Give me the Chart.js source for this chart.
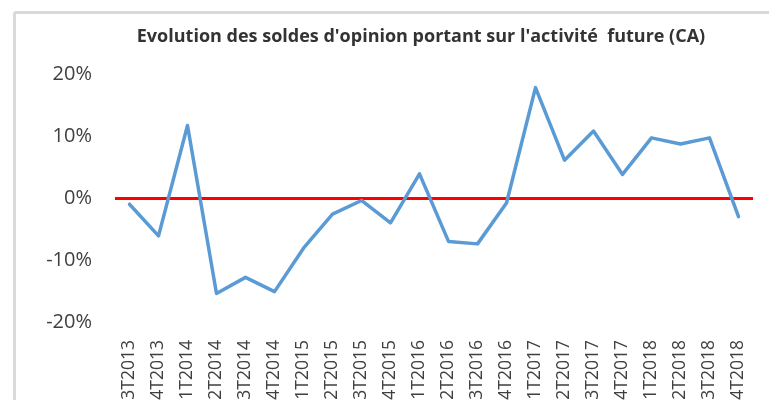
<!DOCTYPE html>
<html>
<head>
<meta charset="utf-8">
<script src="https://cdn.jsdelivr.net/npm/chart.js@4.4.0/dist/chart.umd.min.js"></script>
<style>
  html, body { margin: 0; padding: 0; background: #fff; overflow: hidden; }
  #wrap { position: relative; width: 769px; height: 400px; }
  #frame {
    position: absolute; left: 13px; top: 11px; width: 800px; height: 450px;
    border: 3px solid #d9d9d9; border-radius: 3px; box-sizing: border-box;
  }
  #chart { position: absolute; left: 0; top: 0; }
</style>
</head>
<body>
<div id="wrap">
  <div id="frame"></div>
  <canvas id="chart" width="769" height="400"></canvas>
</div>
<script>
// trimestres
const quarters = ['3T2013', '4T2013', '1T2014', '2T2014', '3T2014', '4T2014',
  '1T2015', '2T2015', '3T2015', '4T2015', '1T2016', '2T2016', '3T2016', '4T2016',
  '1T2017', '2T2017', '3T2017', '4T2017', '1T2018', '2T2018', '3T2018', '4T2018'];
// soldes d'opinion (%)
const soldes = [-1.0, -6.1, 11.7, -15.4, -12.8, -15.1,
  -8.1, -2.6, -0.4, -4.0, 3.9, -7.0, -7.4, -0.8,
  17.8, 6.1, 10.8, 3.8, 9.7, 8.7, 9.7, -3.0];
const yTicks = [-20, -10, 0, 10, 20];

const titleText = "Evolution des soldes d'opinion portant sur l'activité  future (CA)";
const fontFamily = "'Open Sans', 'Noto Sans', sans-serif";

// the original chart is wider than the window, so its title sits right of centre
const offsetTitle = {
  id: 'offsetTitle',
  afterDraw(chart) {
    const ctx = chart.ctx;
    ctx.save();
    ctx.font = 'bold 18px ' + fontFamily;
    ctx.fillStyle = '#333333';
    ctx.textAlign = 'center';
    ctx.textBaseline = 'middle';
    ctx.fillText(titleText, 421, 37);
    ctx.restore();
  }
};

const config = {
  type: 'line',
  data: {
    labels: quarters,
    datasets: [{
      label: 'Solde',
      data: soldes,
      borderColor: '#5b9bd5',
      backgroundColor: '#5b9bd5',
      borderWidth: 3.5,
      pointRadius: 0,
      tension: 0,
      borderJoinStyle: 'round',
      borderCapStyle: 'round'
    }]
  },
  options: {
    responsive: false,
    animation: false,
    layout: {
      padding: { left: 0, right: 16, top: 74, bottom: 0 }
    },
    plugins: {
      legend: { display: false },
      tooltip: { enabled: false },
      title: { display: false }
    },
    scales: {
      x: {
        offset: true,
        grid: { display: false },
        border: { display: false },
        ticks: {
          color: '#404040',
          font: { family: fontFamily, size: 17.5 },
          minRotation: 90,
          maxRotation: 90,
          padding: 10,
          autoSkip: false
        },
        afterFit: function(scale) {
          scale.height = 78;
          // no extra room for the rotated end labels
          scale.paddingLeft = 0;
          scale.paddingRight = 0;
        }
      },
      y: {
        min: -20,
        max: 20,
        afterBuildTicks: function(scale) {
          scale.ticks = yTicks.map(function(v) { return { value: v }; });
        },
        border: { display: false },
        grid: {
          drawTicks: false,
          color: function(ctx) { return ctx.tick && ctx.tick.value === 0 ? '#ff0000' : 'rgba(0,0,0,0)'; },
          lineWidth: function(ctx) { return ctx.tick && ctx.tick.value === 0 ? 3 : 0; }
        },
        ticks: {
          color: '#404040',
          font: { family: fontFamily, size: 20 },
          padding: 23,
          callback: function(v) { return v + '%'; }
        },
        afterFit: function(scale) { scale.width = 115; }
      }
    }
  },
  plugins: [offsetTitle]
};

const chart = new Chart(document.getElementById('chart'), config);
</script>
</body>
</html>
